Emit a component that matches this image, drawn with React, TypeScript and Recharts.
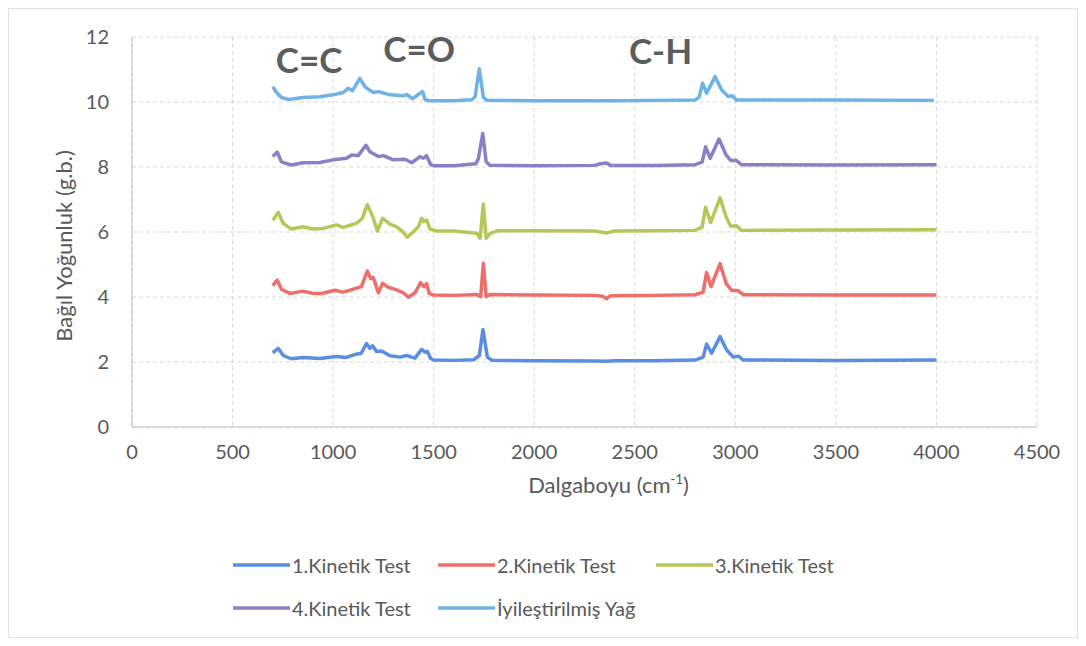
import React from 'react';
import {
  LineChart,
  Line,
  XAxis,
  YAxis,
  CartesianGrid,
  Legend,
  ReferenceDot,
} from 'recharts';

// wavenumber (cm-1) / intensity pairs
const WAVE_1 = [700, 727, 752, 792, 851, 934, 1017, 1065, 1115, 1140, 1166, 1183, 1196, 1216, 1241, 1283, 1333, 1366, 1407, 1440, 1457, 1468, 1485, 1500, 1600, 1700, 1727, 1745, 1767, 1790, 2000, 2300, 2360, 2400, 2600, 2800, 2840, 2857, 2882, 2924, 2957, 2990, 3015, 3040, 3500, 4000];
const INT_1 = [2.28, 2.42, 2.2, 2.1, 2.14, 2.11, 2.17, 2.14, 2.24, 2.27, 2.57, 2.42, 2.5, 2.32, 2.34, 2.19, 2.15, 2.2, 2.12, 2.39, 2.3, 2.33, 2.11, 2.06, 2.05, 2.07, 2.2, 3.0, 2.15, 2.05, 2.04, 2.03, 2.02, 2.04, 2.04, 2.06, 2.15, 2.55, 2.27, 2.78, 2.37, 2.15, 2.18, 2.06, 2.05, 2.06];

const WAVE_2 = [700, 722, 743, 785, 851, 901, 942, 1009, 1050, 1100, 1141, 1170, 1187, 1200, 1225, 1246, 1274, 1316, 1349, 1374, 1407, 1435, 1452, 1465, 1478, 1498, 1600, 1715, 1734, 1747, 1761, 1781, 2000, 2300, 2340, 2360, 2380, 2600, 2800, 2840, 2857, 2879, 2924, 2954, 2982, 3012, 3040, 3500, 4000];
const INT_2 = [4.35, 4.52, 4.24, 4.11, 4.18, 4.11, 4.11, 4.21, 4.15, 4.24, 4.32, 4.8, 4.57, 4.6, 4.13, 4.42, 4.3, 4.22, 4.13, 3.99, 4.13, 4.44, 4.32, 4.41, 4.11, 4.06, 4.05, 4.08, 4.01, 5.04, 4.01, 4.08, 4.06, 4.05, 4.02, 3.95, 4.04, 4.05, 4.07, 4.15, 4.75, 4.32, 5.03, 4.42, 4.2, 4.2, 4.07, 4.06, 4.06];

const WAVE_3 = [700, 727, 752, 792, 851, 901, 951, 1017, 1050, 1117, 1145, 1170, 1187, 1200, 1220, 1246, 1283, 1316, 1346, 1369, 1399, 1424, 1440, 1452, 1465, 1482, 1515, 1600, 1714, 1731, 1747, 1761, 1781, 1820, 2000, 2300, 2360, 2400, 2600, 2800, 2835, 2852, 2877, 2924, 2954, 2977, 3006, 3030, 3500, 4000];
const INT_3 = [6.36, 6.6, 6.27, 6.09, 6.16, 6.09, 6.11, 6.22, 6.14, 6.27, 6.42, 6.84, 6.62, 6.42, 6.03, 6.42, 6.24, 6.16, 6.01, 5.84, 6.01, 6.16, 6.42, 6.32, 6.37, 6.09, 6.03, 6.03, 5.96, 5.81, 6.86, 5.81, 5.96, 6.04, 6.04, 6.03, 5.97, 6.03, 6.04, 6.05, 6.15, 6.76, 6.29, 7.05, 6.47, 6.18, 6.19, 6.05, 6.06, 6.07];

const WAVE_4 = [700, 722, 743, 792, 851, 934, 1000, 1067, 1092, 1125, 1163, 1183, 1225, 1250, 1299, 1358, 1391, 1432, 1449, 1465, 1485, 1500, 1600, 1710, 1722, 1744, 1761, 1780, 2000, 2300, 2330, 2360, 2380, 2600, 2800, 2835, 2852, 2875, 2919, 2954, 2977, 3006, 3030, 3500, 4000];
const INT_4 = [8.32, 8.46, 8.16, 8.06, 8.13, 8.14, 8.22, 8.27, 8.37, 8.35, 8.67, 8.47, 8.32, 8.35, 8.22, 8.24, 8.13, 8.32, 8.27, 8.35, 8.07, 8.04, 8.04, 8.1, 8.25, 9.03, 8.16, 8.05, 8.04, 8.05, 8.1, 8.12, 8.05, 8.05, 8.07, 8.15, 8.62, 8.27, 8.86, 8.37, 8.2, 8.2, 8.07, 8.06, 8.07];

const WAVE_5 = [700, 718, 743, 777, 851, 934, 1000, 1050, 1075, 1097, 1133, 1158, 1200, 1225, 1283, 1349, 1366, 1395, 1432, 1445, 1457, 1480, 1600, 1690, 1706, 1727, 1747, 1765, 2000, 2400, 2600, 2800, 2820, 2837, 2857, 2899, 2932, 2965, 2985, 3005, 3500, 3987];
const INT_5 = [10.47, 10.3, 10.14, 10.08, 10.14, 10.16, 10.22, 10.29, 10.42, 10.35, 10.73, 10.47, 10.29, 10.32, 10.22, 10.19, 10.23, 10.1, 10.27, 10.32, 10.07, 10.04, 10.04, 10.07, 10.16, 11.02, 10.14, 10.05, 10.04, 10.04, 10.05, 10.06, 10.15, 10.58, 10.27, 10.78, 10.37, 10.17, 10.19, 10.06, 10.06, 10.05];

const SERIES_NAMES = ['1.Kinetik Test', '2.Kinetik Test', '3.Kinetik Test', '4.Kinetik Test', 'İyileştirilmiş Yağ'];
const SERIES_COLORS = ['#5b8de0', '#ee6e6a', '#b6c75a', '#8d7fc6', '#6db3e8'];

const X_TICKS = [0, 500, 1000, 1500, 2000, 2500, 3000, 3500, 4000, 4500];
const Y_TICKS = [0, 2, 4, 6, 8, 10, 12];

const BANDS = [
  { label: 'C=C', x: 881, y: 11.29 },
  { label: 'C=O', x: 1428, y: 11.6 },
  { label: 'C-H', x: 2628, y: 11.54 },
];

const toPoints = (xs: number[], ys: number[]) => xs.map((x, i) => ({ x, y: ys[i] }));

const series = [
  toPoints(WAVE_1, INT_1),
  toPoints(WAVE_2, INT_2),
  toPoints(WAVE_3, INT_3),
  toPoints(WAVE_4, INT_4),
  toPoints(WAVE_5, INT_5),
];

const FONT = 'Lato, "Open Sans", sans-serif';
const TEXT_GRAY = '#595959';

function LegendContent() {
  return (
    <div
      style={{
        display: 'grid',
        gridTemplateColumns: '205px 218px 230px',
        fontFamily: FONT,
        fontSize: 20,
        color: TEXT_GRAY,
      }}
    >
      {SERIES_NAMES.map((name, i) => (
        <div key={name} style={{ display: 'flex', alignItems: 'center', height: 43 }}>
          <svg width={58} height={6} style={{ marginRight: 1 }}>
            <line x1={0} y1={3} x2={57} y2={3} stroke={SERIES_COLORS[i]} strokeWidth={3.5} />
          </svg>
          <span>{name}</span>
        </div>
      ))}
    </div>
  );
}

function XTitle(props: any) {
  const vb = props.viewBox;
  const cx = vb.x + vb.width / 2 + 24;
  const cy = vb.y + 66;
  return (
    <text x={cx} y={cy} textAnchor="middle" fontFamily={FONT} fontSize={22} fill={TEXT_GRAY}>
      Dalgaboyu (cm
      <tspan fontSize={13} dy={-9}>-1</tspan>
      <tspan dy={9}>)</tspan>
    </text>
  );
}

function YTitle(props: any) {
  const vb = props.viewBox;
  const cx = 54;
  const cy = vb.y + vb.height / 2 + 14;
  return (
    <text
      x={cx}
      y={cy}
      transform={`rotate(-90, ${cx}, ${cy})`}
      textAnchor="middle"
      dominantBaseline="central"
      fontFamily={FONT}
      fontSize={22}
      fill={TEXT_GRAY}
    >
      Bağıl Yoğunluk (g.b.)
    </text>
  );
}

export default function App() {
  return (
    <div style={{ width: 1070, height: 630, border: '1px solid #e2e2e2', boxSizing: 'border-box', background: '#fff' }}>
      <LineChart
        width={1068}
        height={628}
        margin={{ top: 28, right: 40, left: 0, bottom: 44 }}
      >
        <CartesianGrid stroke="#d9d9d9" strokeDasharray="4 3" />
        <XAxis
          type="number"
          dataKey="x"
          domain={[0, 4500]}
          ticks={X_TICKS}
          height={80}
          tickSize={0}
          tickMargin={18}
          axisLine={{ stroke: '#bfbfbf' }}
          tick={{ fontFamily: FONT, fontSize: 20, fill: TEXT_GRAY }}
          allowDuplicatedCategory={false}
          label={{ content: XTitle }}
        />
        <YAxis
          type="number"
          domain={[0, 12]}
          ticks={Y_TICKS}
          width={123}
          tickSize={0}
          tickMargin={23}
          axisLine={{ stroke: '#bfbfbf' }}
          tick={{ fontFamily: FONT, fontSize: 20, fill: TEXT_GRAY }}
          label={{ content: YTitle }}
        />
        {series.map((pts, i) => (
          <Line
            key={SERIES_NAMES[i]}
            data={pts}
            dataKey="y"
            name={SERIES_NAMES[i]}
            type="linear"
            stroke={SERIES_COLORS[i]}
            strokeWidth={3.5}
            strokeLinejoin="round"
            dot={false}
            activeDot={false}
            isAnimationActive={false}
          />
        ))}
        {BANDS.map((b) => (
          <ReferenceDot
            key={b.label}
            x={b.x}
            y={b.y}
            r={0}
            ifOverflow="visible"
            label={{
              value: b.label,
              position: 'center',
              fontFamily: FONT,
              fontSize: 35,
              fontWeight: 700,
              fill: '#5a5e5e',
            }}
          />
        ))}
        <Legend
          content={LegendContent}
          wrapperStyle={{ left: 224, top: 534, bottom: 'auto', width: 680, height: 86 }}
        />
      </LineChart>
    </div>
  );
}
